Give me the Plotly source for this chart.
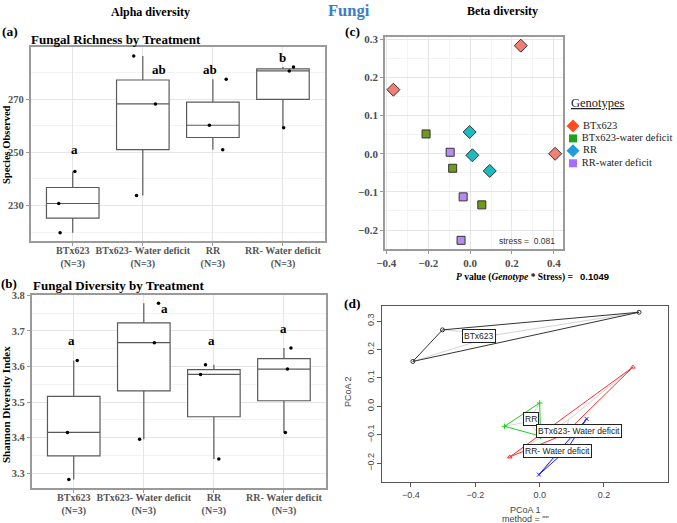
import plotly.graph_objects as go

W, H = 677, 523

# ---------------- data ----------------
groups = ["BTx623", "BTx623- Water deficit", "RR", "RR- Water deficit"]
group_ticks = ["BTx623<br>(N=3)", "BTx623- Water deficit<br>(N=3)", "RR<br>(N=3)", "RR- Water deficit<br>(N=3)"]

richness_btx623 = [219.8, 230.8, 242.8]
richness_btx623_wd = [233.8, 268.2, 286.2]
richness_rr = [251.0, 260.2, 277.5]
richness_rr_wd = [259.3, 280.6, 282.1]
richness_jitter = [[-0.18, -0.20, 0.03], [-0.09, 0.18, -0.13], [0.14, -0.05, 0.19], [0.01, 0.09, 0.15]]
richness_letters = ["a", "ab", "ab", "b"]
richness_letter_y = [251.0, 281.3, 281.3, 285.6]
richness_letter_dx = [0.03, 0.23, -0.04, 0.0]

shannon_btx623 = [3.283, 3.415, 3.617]
shannon_btx623_wd = [3.396, 3.667, 3.778]
shannon_rr = [3.340, 3.578, 3.605]
shannon_rr_wd = [3.415, 3.593, 3.652]
shannon_jitter = [[-0.07, -0.09, 0.05], [-0.06, 0.15, 0.21], [0.07, -0.19, -0.12], [0.02, 0.05, 0.10]]
shannon_letters = ["a", "a", "a", "a"]
shannon_letter_y = [3.674, 3.764, 3.674, 3.706]
shannon_letter_dx = [-0.03, 0.29, -0.03, 0.0]

genotypes = ["BTx623", "BTx623-water deficit", "RR", "RR-water deficit"]
nmds1_btx623 = [-0.366, 0.242, 0.406]
nmds2_btx623 = [0.168, 0.2835, 0.0]
nmds1_btx623_wd = [-0.210, -0.083, 0.056]
nmds2_btx623_wd = [0.052, -0.038, -0.134]
nmds1_rr = [-0.002, 0.011, 0.094]
nmds2_rr = [0.057, -0.004, -0.045]
nmds1_rr_wd = [-0.095, -0.033, -0.043]
nmds2_rr_wd = [0.004, -0.113, -0.227]
stress_value = 0.081
p_value = 0.1049

pcoa1_btx623 = [-0.394, -0.302, 0.309]
pcoa2_btx623 = [0.158, 0.269, 0.331]
pcoa1_red = [0.290, -0.093, 0.076]
pcoa2_red = [0.138, -0.178, -0.099]
pcoa1_green = [0.000, -0.109, 0.003]
pcoa2_green = [0.012, -0.070, -0.105]
pcoa1_blue = [-0.002, 0.146, 0.084]
pcoa2_blue = [-0.240, -0.044, -0.153]
pcoa_labels = ["BTx623", "RR", "BTx623- Water deficit", "RR- Water deficit"]
pcoa_label_x = [-0.187, -0.026, 0.121, 0.055]
pcoa_label_y = [0.246, -0.044, -0.086, -0.158]

# ---------------- styling ----------------
SERIF = "Liberation Serif"
SANS = "Liberation Sans"
BOX_LINE = "#5a5a5a"
FRAME = "#9a9a9a"
GRID = "#e6e6e6"
MINOR = "#f3f3f3"
pt_cols = ["#F37E73", "#6F9A1E", "#1DBAC2", "#B98BF2"]
leg_cols = ["#FF4D1F", "#1FA01F", "#1E9CDB", "#A86CFF"]
symbols = ["diamond", "square", "diamond", "square"]


def dom_x(a, b):
    return [a / W, b / W]


def dom_y(top, bottom):
    return [1 - bottom / H, 1 - top / H]


fig = go.Figure()

# ---------------- (a) and (b) boxplots ----------------
def add_boxes(series, jitter, xa, ya):
    for i, vals in enumerate(series):
        fig.add_trace(go.Box(x=[i] * len(vals), y=vals, width=0.75, boxpoints=False,
                             quartilemethod="inclusive", whiskerwidth=0,
                             fillcolor="white", line=dict(color=BOX_LINE, width=1.2),
                             xaxis=xa, yaxis=ya, showlegend=False, hoverinfo="skip"))
    for i, vals in enumerate(series):
        fig.add_trace(go.Scatter(x=[i + d for d in jitter[i]], y=vals, mode="markers",
                                 marker=dict(color="black", size=3.5),
                                 xaxis=xa, yaxis=ya, showlegend=False, hoverinfo="skip"))


add_boxes([richness_btx623, richness_btx623_wd, richness_rr, richness_rr_wd], richness_jitter, "x", "y")
add_boxes([shannon_btx623, shannon_btx623_wd, shannon_rr, shannon_rr_wd], shannon_jitter, "x2", "y2")

annotations = []
for i in range(4):
    annotations.append(dict(x=i + richness_letter_dx[i], y=richness_letter_y[i], xref="x", yref="y",
                            text="<b>%s</b>" % richness_letters[i], showarrow=False,
                            font=dict(family=SERIF, size=13, color="black")))
    annotations.append(dict(x=i + shannon_letter_dx[i], y=shannon_letter_y[i], xref="x2", yref="y2",
                            text="<b>%s</b>" % shannon_letters[i], showarrow=False,
                            font=dict(family=SERIF, size=13, color="black")))

# ---------------- (c) NMDS ----------------
nmds = [(nmds1_btx623, nmds2_btx623), (nmds1_btx623_wd, nmds2_btx623_wd),
        (nmds1_rr, nmds2_rr), (nmds1_rr_wd, nmds2_rr_wd)]
for i, (xs, ys) in enumerate(nmds):
    fig.add_trace(go.Scatter(x=xs, y=ys, mode="markers", xaxis="x3", yaxis="y3",
                             marker=dict(symbol=symbols[i], color=pt_cols[i],
                                         size=10 if symbols[i] == "diamond" else 8,
                                         line=dict(color="#333333", width=1)),
                             showlegend=False, hoverinfo="skip"))

# legend drawn on its own small axis
for i, g in enumerate(genotypes):
    fig.add_trace(go.Scatter(x=[0], y=[3 - i], mode="markers+text", text=[" " + g],
                             textposition="middle right", xaxis="x5", yaxis="y5",
                             textfont=dict(family=SERIF, size=10.5, color="#222222"),
                             marker=dict(symbol=symbols[i], color=leg_cols[i],
                                         size=10 if symbols[i] == "diamond" else 8),
                             showlegend=False, hoverinfo="skip", cliponaxis=False))

annotations.append(dict(x=0.272, y=-0.229, xref="x3", yref="y3",
                        text="stress =  %.3f" % stress_value, showarrow=False,
                        font=dict(family=SANS, size=8.5, color="#333333")))

# ---------------- (d) PCoA hulls ----------------
pc = [(pcoa1_btx623, pcoa2_btx623, "#333333", "circle-open"),
      (pcoa1_red, pcoa2_red, "#FF3030", "triangle-up-open"),
      (pcoa1_green, pcoa2_green, "#22CC22", "cross-thin-open"),
      (pcoa1_blue, pcoa2_blue, "#2020EE", "x-thin-open")]
for xs, ys, col, sym in pc:
    cx = sum(xs) / len(xs)
    cy = sum(ys) / len(ys)
    sx, sy = [], []
    for a, b in zip(xs, ys):
        sx += [cx, a, None]
        sy += [cy, b, None]
    fig.add_trace(go.Scatter(x=sx, y=sy, mode="lines", xaxis="x4", yaxis="y4",
                             line=dict(color="#c8c8c8", width=0.8),
                             showlegend=False, hoverinfo="skip"))
    fig.add_trace(go.Scatter(x=xs + [xs[0]], y=ys + [ys[0]], mode="lines", xaxis="x4", yaxis="y4",
                             line=dict(color=col, width=1),
                             showlegend=False, hoverinfo="skip"))
    fig.add_trace(go.Scatter(x=xs, y=ys, mode="markers", xaxis="x4", yaxis="y4",
                             marker=dict(symbol=sym, color=col, size=4, line=dict(color=col, width=1)),
                             showlegend=False, hoverinfo="skip"))

for lab, lx, ly in zip(pcoa_labels, pcoa_label_x, pcoa_label_y):
    annotations.append(dict(x=lx, y=ly, xref="x4", yref="y4", text=lab, showarrow=False,
                            bgcolor="white", bordercolor="#222222", borderwidth=1, borderpad=1,
                            font=dict(family=SANS, size=8.5, color="#222222")))

# ---------------- text annotations ----------------
def paper_text(x, y, text, size, family=SERIF, color="black", xanchor="center", angle=0):
    annotations.append(dict(x=x / W, y=1 - y / H, xref="paper", yref="paper", text=text,
                            showarrow=False, xanchor=xanchor, yanchor="middle", textangle=angle,
                            font=dict(family=family, size=size, color=color)))


paper_text(150, 12, "<b>Alpha diversity</b>", 12)
paper_text(349, 10, "<b>Fungi</b>", 16.5, color="#3A7DC6")
paper_text(502, 11, "<b>Beta diversity</b>", 12)
paper_text(0, 31, "<b>(a)</b>", 13.5, xanchor="left")
paper_text(29, 39, "<b>Fungal Richness by Treatment</b>", 13, xanchor="left")
paper_text(-1, 283, "<b>(b)</b>", 13, xanchor="left")
paper_text(31, 285, "<b>Fungal Diversity by Treatment</b>", 13, xanchor="left")
paper_text(343, 31, "<b>(c)</b>", 13.5, xanchor="left")
paper_text(342, 303, "<b>(d)</b>", 13.5, xanchor="left")
paper_text(6, 145, "<b>Species Observed</b>", 10.5, angle=-90)
paper_text(6, 405, "<b>Shannon Diversity Index</b>", 11, angle=-90)
paper_text(569, 103, "<u>Genotypes</u>", 12.5, xanchor="left", color="#222222")
paper_text(577, 277, "<b><i>P</i> value (<i>Genotype</i> * Stress) = </b>", 9.5, xanchor="right")
paper_text(578, 276, "<b>%.4f</b>" % p_value, 9.5, family=SANS, xanchor="left")
paper_text(525, 510, "PCoA 1", 9, family=SANS, color="#444444")
paper_text(525, 519, 'method = ""', 9, family=SANS, color="#444444")
paper_text(348, 392, "PCoA 2", 9, family=SANS, color="#444444", angle=-90)

# ---------------- axes ----------------
x_tick = dict(family=SERIF, size=10, color="#555555", weight="bold")
y_tick = dict(family=SERIF, size=10.5, color="#555555", weight="bold")
c_tick = dict(family=SERIF, size=11, color="#4d4d4d", weight="bold")
common_gg = dict(showline=True, mirror=True, linecolor=FRAME, linewidth=1.5, ticks="outside",
                 ticklen=3, tickcolor=FRAME, zeroline=False, gridcolor=GRID, automargin=False)

layout = dict(
    width=W, height=H, margin=dict(l=0, r=0, t=0, b=0, autoexpand=False),
    paper_bgcolor="white", plot_bgcolor="white", boxmode="overlay", showlegend=False,
    xaxis=dict(domain=dom_x(30.7, 325), range=[-0.6, 3.6], tickvals=[0, 1, 2, 3], tickangle=0,
               ticktext=group_ticks, anchor="y", tickfont=x_tick, ticklabelstandoff=-4, **common_gg),
    yaxis=dict(domain=dom_y(47, 241), range=[216.7, 289.6], tick0=230, dtick=20, tickfont=y_tick,
               minor=dict(dtick=10, showgrid=True, gridcolor=MINOR), anchor="x", **common_gg),
    xaxis2=dict(domain=dom_x(31.7, 326), range=[-0.6, 3.6], tickvals=[0, 1, 2, 3], tickangle=0,
                ticktext=group_ticks, anchor="y2", tickfont=x_tick, ticklabelstandoff=-4, **common_gg),
    yaxis2=dict(domain=dom_y(295, 488.3), range=[3.258, 3.801], tick0=3.3, dtick=0.1, tickfont=y_tick,
                tickformat=".1f", minor=dict(dtick=0.05, showgrid=True, gridcolor=MINOR),
                anchor="x2", **common_gg),
    xaxis3=dict(domain=dom_x(385, 563.3), range=[-0.406, 0.445], tick0=-0.4, dtick=0.2, tickangle=0,
                tickformat=".1f", minor=dict(dtick=0.1, showgrid=True, gridcolor=MINOR),
                anchor="y3", tickfont=c_tick, **common_gg),
    yaxis3=dict(domain=dom_y(36.7, 249.3), range=[-0.2505, 0.307], tick0=-0.2, dtick=0.1,
                tickformat=".1f", minor=dict(dtick=0.05, showgrid=True, gridcolor=MINOR),
                anchor="x3", tickfont=c_tick, **common_gg),
    xaxis4=dict(domain=dom_x(382.3, 667.7), range=[-0.489, 0.398], tickvals=[-0.4, -0.2, 0.0, 0.2],
                tickformat=".1f", tickangle=0, showline=True, mirror=True, linecolor="#555555", linewidth=1,
                ticks="outside", ticklen=4, tickcolor="#555555", showgrid=False, zeroline=False,
                tickfont=dict(family=SANS, size=9, color="#444444"), anchor="y4", automargin=False),
    yaxis4=dict(domain=dom_y(305.7, 482.3), range=[-0.267, 0.354], tickvals=[-0.2, -0.1, 0.0, 0.1, 0.2, 0.3],
                tickformat=".1f", tickangle=-90, showline=True, mirror=True, linecolor="#555555",
                linewidth=1, ticks="outside", ticklen=4, tickcolor="#555555", showgrid=False,
                zeroline=False, tickfont=dict(family=SANS, size=9, color="#444444"), anchor="x4",
                automargin=False),
    xaxis5=dict(domain=dom_x(565, 677), range=[-1, 13], visible=False, fixedrange=True, anchor="y5",
                automargin=False),
    yaxis5=dict(domain=dom_y(120, 170), range=[-0.54, 3.48], visible=False, fixedrange=True, anchor="x5",
                automargin=False),
    annotations=annotations,
)
fig.update_layout(**layout)
fig.write_html("out.html", config={"displayModeBar": False},
               post_script="document.body.style.margin='0';document.body.style.padding='0';")
